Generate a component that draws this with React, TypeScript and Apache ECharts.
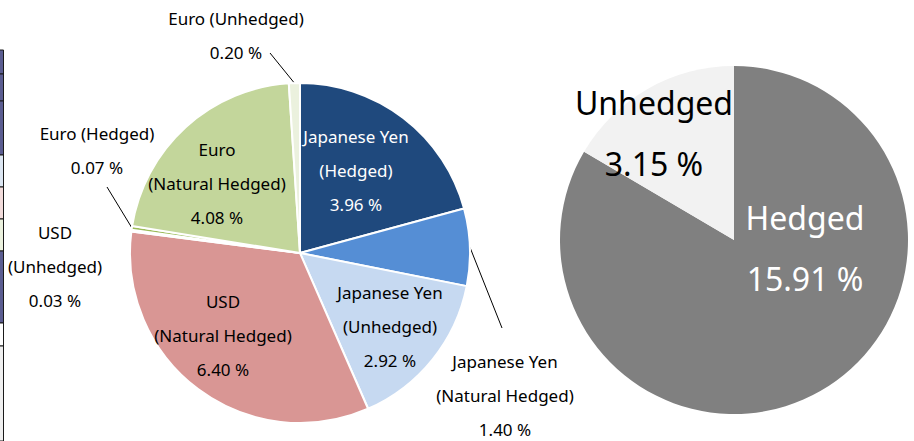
import React, { useEffect, useRef } from "react";
import * as echarts from "echarts";

// ---- Data ----
const leftNames = [
  "Japanese Yen\n(Hedged)",
  "Japanese Yen\n(Natural Hedged)",
  "Japanese Yen\n(Unhedged)",
  "USD\n(Natural Hedged)",
  "USD\n(Unhedged)",
  "Euro (Hedged)",
  "Euro\n(Natural Hedged)",
  "Euro (Unhedged)",
];
const leftValues = [3.96, 1.4, 2.92, 6.4, 0.03, 0.07, 4.08, 0.2];
const leftColors = ["#1f497d", "#558ed5", "#c6d9f1", "#d99694", "#f2dcdb", "#9bbb59", "#c3d69b", "#ebf1de"];
const leftTextColors = ["#ffffff", "#000", "#000", "#000", "#000", "#000", "#000", "#000"];
const leftOutside = [false, true, false, false, true, true, false, true];
const leftShowLine = [false, true, false, false, false, true, false, true];

const rightNames = ["Hedged", "Unhedged"];
const rightValues = [15.91, 3.15];
const rightColors = ["#808080", "#f2f2f2"];
const rightTextColors = ["#ffffff", "#000000"];

// ---- Layout (label placement, not data) ----
const leftLabelPos: number[][] = [
  [356, 170], [505, 395], [390, 326], [223, 335], [55, 266], [97, 150], [217, 183], [236, 35],
];
const leftLineEnd: (number[] | null)[] = [
  null, [502, 328], null, null, null, [107, 187], null, [270, 53],
];
const rightLabelPos: number[][] = [[805, 248], [654, 133]];

// left-edge table fragment
const tableRows: [number, number, string][] = [
  [50, 74, "#5b5d91"], [74, 101, "#5b5d91"], [101, 155, "#5b5d91"], [155, 187, "#dce6f2"],
  [187, 219, "#f2dcdb"], [219, 251, "#ebf1de"], [251, 323, "#5b5d91"], [323, 346, "#ffffff"],
  [346, 441, "#efefef"],
];

const FONT = "'Noto Sans', 'Open Sans', sans-serif";

export default function App() {
  const ref = useRef<HTMLDivElement>(null);
  useEffect(() => {
    if (!ref.current) return;
    const chart = echarts.init(ref.current, null, { renderer: "svg" });
    const cx = 300, cy = 253, R = 170;
    const total = leftValues.reduce((a, b) => a + b, 0);

    const graphics: any[] = [];
    tableRows.forEach(([y0, y1, c]) => {
      graphics.push({
        type: "rect",
        shape: { x: -1, y: y0, width: 4.5, height: y1 - y0 },
        style: { fill: c, stroke: "#1a1a1a", lineWidth: 1 },
        silent: true,
      });
    });

    chart.setOption({
      animation: false,
      graphic: graphics,
      series: [
        {
          type: "pie",
          center: [cx, cy],
          radius: R,
          startAngle: 90,
          clockwise: true,
          avoidLabelOverlap: false,
          itemStyle: { borderColor: "#fff", borderWidth: 2 },
          emphasis: { disabled: true },
          label: {
            fontFamily: FONT,
            fontSize: 17,
            lineHeight: 34,
            align: "center",
            formatter: (p: any) => `${p.name}\n${p.value.toFixed(2)} %`,
          },
          labelLayout: (params: any) => {
            const i = params.dataIndex;
            const pos = leftLabelPos[i];
            const res: any = { x: pos[0], y: pos[1], align: "center", verticalAlign: "middle" };
            const end = leftLineEnd[i];
            if (end) {
              let start = params.labelLinePoints && params.labelLinePoints[0];
              if (!start) {
                let acc = 0;
                for (let k = 0; k < i; k++) acc += leftValues[k];
                const mid = ((acc + leftValues[i] / 2) / total) * Math.PI * 2;
                start = [cx + R * Math.sin(mid), cy - R * Math.cos(mid)];
              }
              res.labelLinePoints = [start, end];
            }
            return res;
          },
          data: leftValues.map((v, i) => ({
            name: leftNames[i],
            value: v,
            itemStyle: { color: leftColors[i] },
            label: {
              position: leftOutside[i] ? "outside" : "inside",
              color: leftTextColors[i],
            },
            labelLine: {
              show: leftShowLine[i],
              length: 10,
              length2: 10,
              lineStyle: { color: "#000", width: 1 },
            },
          })),
        },
        {
          type: "pie",
          center: [734, 240],
          radius: 174,
          startAngle: 90,
          clockwise: true,
          avoidLabelOverlap: false,
          emphasis: { disabled: true },
          label: {
            position: "inside",
            fontFamily: FONT,
            fontSize: 32,
            lineHeight: 61,
            align: "center",
            formatter: (p: any) => `${p.name}\n${p.value.toFixed(2)} %`,
          },
          labelLayout: (params: any) => {
            const pos = rightLabelPos[params.dataIndex];
            return { x: pos[0], y: pos[1], align: "center", verticalAlign: "middle" };
          },
          labelLine: { show: false },
          data: rightValues.map((v, i) => ({
            name: rightNames[i],
            value: v,
            itemStyle: { color: rightColors[i] },
            label: { color: rightTextColors[i] },
          })),
        },
      ],
    });
    return () => chart.dispose();
  }, []);
  return (
    <div
      ref={ref}
      style={{ position: "fixed", left: 0, top: 0, width: 914, height: 441, background: "#fff" }}
    />
  );
}
